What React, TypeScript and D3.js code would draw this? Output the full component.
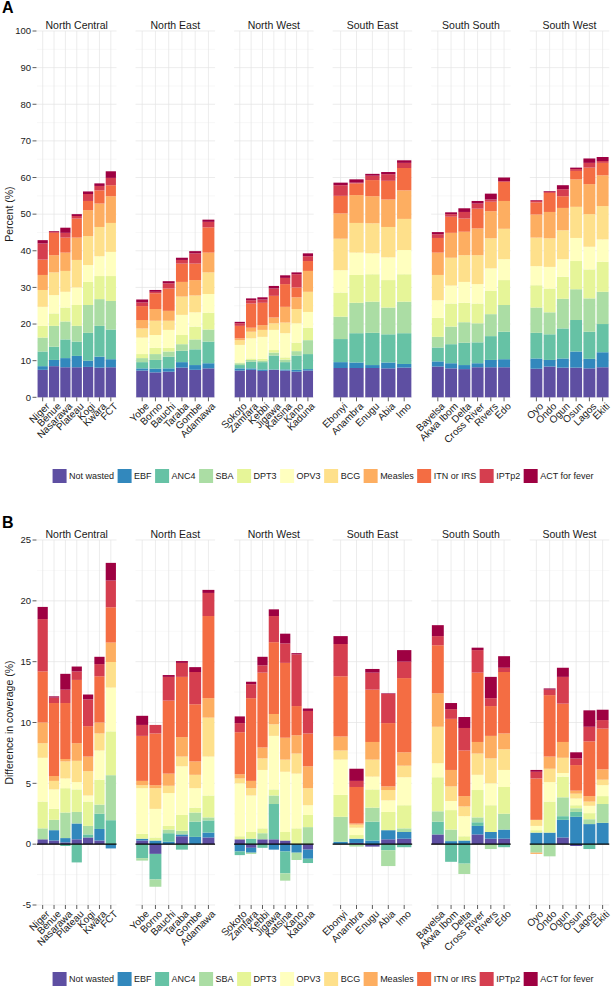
import React from "react";
import * as d3 from "d3";

const FONT = "'Liberation Sans', Arial, Helvetica, sans-serif";

const regions = ["North Central", "North East", "North West", "South East", "South South", "South West"];
const northCentral = ["Niger", "Benue", "Nasarawa", "Plateau", "Kogi", "Kwara", "FCT"];
const northEast = ["Yobe", "Borno", "Bauchi", "Taraba", "Gombe", "Adamawa"];
const northWest = ["Sokoto", "Zamfara", "Kebbi", "Jigawa", "Katsina", "Kano", "Kaduna"];
const southEast = ["Ebonyi", "Anambra", "Enugu", "Abia", "Imo"];
const southSouth = ["Bayelsa", "Akwa Ibom", "Delta", "Cross River", "Rivers", "Edo"];
const southWest = ["Oyo", "Ondo", "Ogun", "Osun", "Lagos", "Ekiti"];
const regionStates = [northCentral, northEast, northWest, southEast, southSouth, southWest];

const indicators = ["Not wasted", "EBF", "ANC4", "SBA", "DPT3", "OPV3", "BCG", "Measles", "ITN or IRS", "IPTp2", "ACT for fever"];
const indicatorColors = ["#5E4FA2", "#3288BD", "#66C2A5", "#ABDDA4", "#E6F598", "#FFFFBF", "#FEE08B", "#FDAE61", "#F46D43", "#D53E4F", "#9E0142"];

const percentTicks = [0, 10, 20, 30, 40, 50, 60, 70, 80, 90, 100];
const differenceTicks = [-5, 0, 5, 10, 15, 20, 25];

// Panel A: coverage contribution (%) per indicator, states in order above
const aNotWasted = [7.5, 8.5, 8.2, 8.2, 8.3, 8.1, 8.2, 7.3, 6.8, 7.0, 8.1, 7.5, 7.9, 7.3, 7.5, 7.2, 7.5, 7.3, 7.0, 7.3, 8.0, 8.0, 8.0, 7.9, 8.1, 8.4, 7.9, 7.7, 8.2, 8.2, 8.2, 7.8, 8.4, 8.1, 8.1, 7.9, 8.2];
const aEBF = [1.0, 1.7, 2.5, 3.1, 1.7, 3.0, 2.2, 0.6, 1.0, 0.9, 1.5, 1.3, 1.4, 0.6, 0.4, 0.4, 0.1, 0.3, 0.5, 0.4, 1.6, 1.5, 0.8, 1.6, 1.0, 1.4, 1.4, 1.1, 1.1, 2.0, 2.2, 2.8, 1.8, 2.5, 4.4, 2.6, 4.1];
const aANC4 = [4.0, 3.6, 5.1, 3.9, 7.6, 8.4, 8.1, 1.7, 2.4, 3.2, 3.1, 4.3, 5.9, 0.9, 1.8, 2.0, 3.8, 2.0, 3.9, 4.1, 6.3, 8.0, 8.8, 7.7, 8.4, 3.8, 5.2, 6.1, 5.7, 6.5, 7.5, 7.0, 7.0, 8.2, 8.6, 7.4, 7.7];
const aSBA = [3.8, 5.7, 4.9, 4.3, 7.6, 7.3, 7.8, 1.1, 1.6, 1.4, 1.8, 2.7, 3.3, 0.5, 0.5, 0.4, 0.8, 0.7, 1.2, 3.8, 6.1, 8.3, 8.5, 7.3, 8.6, 2.9, 4.8, 5.6, 5.2, 6.0, 7.3, 6.9, 6.0, 8.1, 8.4, 9.1, 8.8];
const aDPT3 = [3.2, 3.4, 3.8, 5.7, 6.3, 6.3, 6.8, 1.1, 1.7, 1.0, 2.5, 3.5, 4.6, 0.2, 0.4, 0.5, 0.7, 0.6, 2.3, 3.4, 6.6, 7.6, 7.5, 7.5, 7.5, 5.2, 6.3, 5.3, 5.4, 6.4, 6.8, 6.1, 6.5, 6.0, 7.7, 7.9, 8.2];
const aOPV3 = [5.2, 5.0, 4.3, 4.8, 4.6, 5.4, 6.6, 4.5, 3.5, 4.9, 5.5, 3.9, 5.1, 4.8, 5.5, 6.0, 5.5, 6.6, 5.3, 4.3, 6.1, 6.1, 5.7, 6.2, 6.6, 4.8, 4.9, 5.7, 5.3, 6.1, 5.7, 5.2, 5.9, 4.8, 6.3, 6.2, 6.1];
const aBCG = [4.6, 6.2, 5.7, 7.5, 7.9, 8.0, 7.9, 2.5, 3.9, 2.5, 5.0, 4.6, 5.9, 1.3, 1.8, 1.9, 1.8, 2.9, 3.9, 5.5, 8.6, 8.1, 8.2, 8.3, 8.5, 6.9, 7.6, 7.3, 7.9, 8.2, 8.3, 7.8, 7.8, 7.9, 8.5, 8.9, 9.1];
const aMeasles = [4.1, 4.7, 5.0, 6.1, 7.1, 6.4, 7.3, 2.3, 3.2, 2.7, 4.0, 4.2, 5.4, 0.5, 1.1, 1.3, 1.6, 4.3, 3.2, 5.7, 6.9, 7.6, 7.4, 7.5, 7.8, 6.1, 6.8, 6.4, 7.3, 7.4, 7.6, 6.3, 7.2, 6.1, 7.5, 8.2, 8.4];
const aITN = [4.2, 6.1, 4.1, 5.2, 2.5, 3.6, 3.0, 3.8, 4.3, 6.1, 5.0, 4.5, 6.9, 3.4, 6.6, 6.1, 5.9, 6.2, 2.7, 2.7, 4.8, 3.2, 4.4, 5.1, 6.1, 4.0, 4.4, 3.6, 5.4, 2.6, 5.2, 3.3, 5.2, 3.2, 2.3, 4.5, 3.4];
const aIPTp2 = [4.4, 0.3, 1.3, 0.7, 1.9, 1.2, 2.0, 1.0, 0.4, 1.4, 1.0, 2.8, 1.5, 0.7, 0.9, 0.9, 2.0, 1.7, 3.6, 1.3, 2.9, 0.2, 1.2, 1.8, 1.4, 1.0, 0.7, 1.8, 1.4, 0.6, 0.2, 0.4, 0.3, 1.9, 0.5, 1.3, 0.5];
const aACT = [0.9, 0.2, 1.4, 0.5, 0.7, 0.7, 1.8, 0.8, 0.5, 0.6, 0.6, 0.6, 0.6, 0.4, 0.5, 0.6, 0.7, 0.7, 0.5, 0.8, 0.7, 0.9, 0.5, 0.6, 0.7, 0.6, 0.5, 1.0, 0.7, 1.6, 1.0, 0.2, 0.2, 1.1, 0.4, 1.2, 1.1];

// Panel B: difference in coverage (%) per indicator
const bNotWasted = [0.4, 0.3, 0.15, 0.4, 0.55, 0.3, 0, 0.3, -0.8, 0, 0.65, 0, 0.55, 0.4, -0.3, 0.4, 0.4, 0.3, 0, -0.45, 0, 0.1, -0.2, 0.4, 0.45, 0.8, 0, 0, 0.8, 0.45, 0.45, 0, 0, 0.55, -0.15, 0, 0];
const bEBF = [0, 0.85, 0.35, 1.3, 0, 0.95, -0.35, 0.15, 0.3, 0.2, 0.15, 0.6, 0.4, -0.6, -0.4, 0, -0.45, -0.6, -0.7, -0.75, 0.2, 0.35, 0.3, 0.75, 0.55, 0, 0.25, 0.3, 0.7, 0.55, 0.75, 0.95, 0.95, 1.45, 2.25, 1.65, 1.75];
const bANC4 = [0, 0, -0.15, -1.5, 0.25, 1.25, 1.97, -1.15, -2.1, 0.7, -0.45, 1.25, 1.0, -0.3, 0.45, -0.3, 2.9, -1.8, 0, -0.35, 0, 0, 1.55, -0.5, -0.25, 1.05, -1.45, -1.6, 0.3, 0, -0.25, 0, 0, 0.3, 0.4, -0.4, 0];
const bSBA = [0.9, 0.85, 2.1, 0.95, 0.7, 0.75, 3.7, -0.2, -0.6, 0.3, 0.3, 0.75, 0.25, 0, -0.1, 0.5, 0.7, -0.6, -0.6, 1.4, 2.05, -0.2, 1.15, -1.3, 0.3, 0.85, 0.95, -0.85, 0.4, -0.4, 1.3, -0.7, -1.0, 1.55, 0.3, 0.4, 1.55];
const bDPT3 = [2.2, 0.9, 2.0, 1.85, 2.0, 2.05, 3.6, 0.4, 0.25, 0.3, 1.3, 0.4, 1.8, 0.25, 0.55, 0.4, 0.5, 0.7, 1.3, 1.0, 1.8, 0.3, 1.5, 1.5, 1.9, 2.8, 1.6, 0.35, 2.25, 2.2, 2.2, 0.2, 2.55, 1.7, 0.25, 0.5, 0.65];
const bOPV3 = [3.6, 1.6, 0.8, 0.6, 0.5, 2.4, 3.6, 3.75, 2.35, 2.7, 4.0, 1.6, 3.2, 4.35, 3.0, 4.8, 4.4, 4.95, 4.5, 0.8, 2.9, 0.6, 1.05, 0.95, 2.3, 1.15, 0.75, 1.65, 1.25, 1.8, 1.4, 0.35, 1.6, 0.3, 0.55, 0.6, 0.9];
const bBCG = [1.2, 0.7, 1.4, 1.75, 2.0, 1.4, 2.1, 0.25, 1.7, 0.6, 0.8, 1.1, 3.2, 0.4, 0.6, 0.95, 0.95, 1.0, 1.65, 1.4, 0.75, 0.25, 1.4, 0.85, 0.95, 3.0, 1.2, 0.8, 1.75, 2.05, 1.7, 0.5, 1.1, 1.25, 0.4, 0.35, 0.45];
const bMeasles = [1.7, 0.4, 0.2, 1.45, 1.2, 0.9, 1.6, 0.35, 0.25, 1.0, 1.6, 1.1, 1.6, 0.35, 0.6, 0.9, 0.85, 1.8, 1.5, 1.8, 1.15, 0.1, 1.45, 0.3, 1.1, 2.75, 1.35, 0.85, 0.95, 1.85, 1.3, -0.1, 1.0, 1.3, 0.25, 0.45, 0.85];
const bITN = [4.2, 6.0, 4.6, 5.2, 2.5, 3.8, 2.9, 3.7, 4.25, 6.0, 4.95, 4.7, 6.75, 3.45, 6.8, 6.15, 5.9, 6.15, 2.4, 2.7, 4.95, 3.0, 4.3, 5.2, 6.1, 3.95, 4.2, 3.75, 5.7, 2.45, 5.05, 3.4, 5.05, 3.15, 2.1, 4.5, 3.35];
const bIPTp2 = [4.3, 0.45, 1.1, 0.7, 2.2, 1.0, 2.2, 0.9, 0.7, 1.95, 1.15, 2.65, 1.9, 0.75, 1.15, 0.6, 2.15, 1.6, 4.25, 1.85, 2.65, 0.5, 1.4, 2.4, 1.35, 0.75, 0.8, 1.85, 1.85, 0.65, 0.35, 0.55, 0.45, 2.2, 0.55, 1.2, 0.7];
const bACT = [1.0, 0.1, 1.3, 0.4, 0.4, 0.6, 1.45, 0.75, 0, 0.15, 0.15, 0.4, 0.25, 0.55, 0.2, 0.7, 0.55, 0.8, 0.1, 0.2, 0.65, 1.0, 0.3, 0.05, 0.95, 0.9, 0.5, 0.9, 0.2, 1.75, 0.95, 0.15, 0.1, 0.75, 0.5, 1.35, 0.85];

const coverageSeries = [aNotWasted, aEBF, aANC4, aSBA, aDPT3, aOPV3, aBCG, aMeasles, aITN, aIPTp2, aACT];
const differenceSeries = [bNotWasted, bEBF, bANC4, bSBA, bDPT3, bOPV3, bBCG, bMeasles, bITN, bIPTp2, bACT];

// layout
const W = 615;
const H = 989;
const PANEL_X0 = 37;
const PANEL_PITCH = 98.55;
const PANEL_W = 79.5;
const TEXT = "#1a1a1a";

const regionOffsets = regionStates.map((_, i) => d3.sum(regionStates.slice(0, i), (s) => s.length));

let measureCtx: CanvasRenderingContext2D | null = null;
function measure(text: string, size: number) {
  if (!measureCtx) measureCtx = document.createElement("canvas").getContext("2d");
  if (!measureCtx) return text.length * size * 0.5;
  measureCtx.font = `${size}px "Liberation Sans", Arial, sans-serif`;
  return measureCtx.measureText(text).width;
}

function Legend({ cy }: { cy: number }) {
  const fs = 9;
  const key = 14;
  const gapKT = 2.5;
  const gapTK = 3.5;
  const widths = indicators.map((t) => measure(t, fs));
  const total = d3.sum(widths) + indicators.length * (key + gapKT) + (indicators.length - 1) * gapTK;
  const centerX = PANEL_X0 + (5 * PANEL_PITCH + PANEL_W) / 2;
  let x = centerX - total / 2;
  const items = indicators.map((t, i) => {
    const kx = x;
    x += key + gapKT + widths[i] + gapTK;
    return (
      <g key={t}>
        <rect x={kx} y={cy - key / 2} width={key} height={key} fill={indicatorColors[i]} />
        <text x={kx + key + gapKT} y={cy} dy="0.35em" fontSize={fs} fill={TEXT} fontFamily={FONT}>
          {t}
        </text>
      </g>
    );
  });
  return <g>{items}</g>;
}

type PanelProps = {
  top: number;
  bottom: number;
  domain: [number, number];
  ticks: number[];
  series: number[][];
  yTitle: string;
  letter: string;
  letterY: number;
  zeroLine?: boolean;
};

function FacetRow({ top, bottom, domain, ticks, series, yTitle, letter, letterY, zeroLine }: PanelProps) {
  const y = d3.scaleLinear().domain(domain).range([bottom, top]);
  const step = ticks[1] - ticks[0];
  const minor = ticks.slice(0, -1).map((t) => t + step / 2);
  const elements: React.ReactNode[] = [];

  regions.forEach((reg, ri) => {
    const px = PANEL_X0 + ri * PANEL_PITCH;
    const states = regionStates[ri];
    const x = d3.scaleBand<string>().domain(states).range([px, px + PANEL_W]).paddingInner(0.1).paddingOuter(0.05);
    const g: React.ReactNode[] = [];
    // grid
    minor.forEach((t) =>
      g.push(<line key={`mi${t}`} x1={px} x2={px + PANEL_W} y1={y(t)} y2={y(t)} stroke="#f1f1f1" strokeWidth={0.5} />)
    );
    ticks.forEach((t) =>
      g.push(<line key={`ma${t}`} x1={px} x2={px + PANEL_W} y1={y(t)} y2={y(t)} stroke="#e4e4e4" strokeWidth={0.7} />)
    );
    states.forEach((s) => {
      const cx = (x(s) as number) + x.bandwidth() / 2;
      g.push(<line key={`vg${s}`} x1={cx} x2={cx} y1={top} y2={bottom} stroke="#e4e4e4" strokeWidth={0.7} />);
    });
    // bars
    states.forEach((s, si) => {
      const gi = regionOffsets[ri] + si;
      let pos = 0;
      let neg = 0;
      series.forEach((arr, k) => {
        const v = arr[gi];
        if (!v) return;
        let a: number, b: number;
        if (v > 0) {
          a = pos;
          b = pos + v;
          pos = b;
        } else {
          a = neg;
          b = neg + v;
          neg = b;
        }
        const y1 = y(Math.max(a, b));
        const y2 = y(Math.min(a, b));
        g.push(
          <rect key={`b${s}${k}`} x={x(s)} y={y1} width={x.bandwidth()} height={y2 - y1} fill={indicatorColors[k]} />
        );
      });
    });
    if (zeroLine) {
      g.push(<line key="zero" x1={px} x2={px + PANEL_W} y1={y(0)} y2={y(0)} stroke="#000" strokeWidth={1.2} />);
    }
    // x ticks and labels
    states.forEach((s) => {
      const cx = (x(s) as number) + x.bandwidth() / 2;
      g.push(<line key={`xt${s}`} x1={cx} x2={cx} y1={bottom} y2={bottom + 4} stroke="#333" strokeWidth={0.8} />);
      g.push(
        <text
          key={`xl${s}`}
          transform={`translate(${cx + 2.5},${bottom + 4.5}) rotate(-45)`}
          textAnchor="end"
          dy="0.72em"
          fontSize={10}
          fill={TEXT}
          fontFamily={FONT}
        >
          {s}
        </text>
      );
    });
    // strip
    g.push(
      <text key="strip" x={px + PANEL_W / 2} y={top - 2} textAnchor="middle" fontSize={10.5} fill={TEXT} fontFamily={FONT}>
        {reg}
      </text>
    );
    elements.push(<g key={reg}>{g}</g>);
  });

  // y axis
  const yAxis = ticks.map((t) => (
    <g key={`yt${t}`}>
      <line x1={PANEL_X0 - 4.5} x2={PANEL_X0 - 0.5} y1={y(t)} y2={y(t)} stroke="#333" strokeWidth={0.8} />
      <text x={PANEL_X0 - 6} y={y(t)} dy="0.35em" textAnchor="end" fontSize={9.5} fill={TEXT} fontFamily={FONT}>
        {t}
      </text>
    </g>
  ));

  return (
    <g>
      {elements}
      {yAxis}
      <text
        transform={`translate(13,${(top + bottom) / 2}) rotate(-90)`}
        textAnchor="middle"
        fontSize={10.5}
        fill={TEXT}
        fontFamily={FONT}
      >
        {yTitle}
      </text>
      <text x={2} y={letterY} fontSize={16} fontWeight="bold" fill="#000" fontFamily={FONT}>
        {letter}
      </text>
    </g>
  );
}

export default function App() {
  return (
    <svg
      width={W}
      height={H}
      viewBox={`0 0 ${W} ${H}`}
      style={{ position: "absolute", left: 0, top: 0, background: "#fff", display: "block" }}
    >
      <rect x={0} y={0} width={W} height={H} fill="#fff" />
      <FacetRow
        top={31}
        bottom={397.3}
        domain={[0, 100]}
        ticks={percentTicks}
        series={coverageSeries}
        yTitle="Percent (%)"
        letter="A"
        letterY={13}
      />
      <Legend cy={476} />
      <FacetRow
        top={540}
        bottom={905}
        domain={[-5, 25]}
        ticks={differenceTicks}
        series={differenceSeries}
        yTitle="Difference in coverage (%)"
        letter="B"
        letterY={528}
        zeroLine
      />
      <Legend cy={979} />
    </svg>
  );
}
